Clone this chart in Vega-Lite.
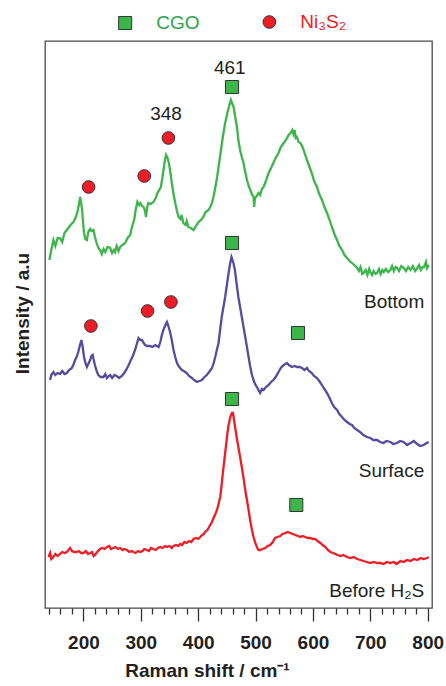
{
"$schema": "https://vega.github.io/schema/vega-lite/v6.json",
"width": 387, "height": 567,
"autosize": {"type": "none"},
"padding": {"left": 45, "top": 41, "right": 14, "bottom": 78},
"background": "white",
"config": {"view": {"stroke": "#4a4a4a", "strokeWidth": 1.3}, "font": "Liberation Sans"},
"datasets": {
"bottom": [{"x":140.7,"y":348},{"x":144,"y":358},{"x":147.7,"y":368},{"x":151,"y":362},{"x":155,"y":370},{"x":159.4,"y":369.7},{"x":163,"y":366},{"x":167,"y":375},{"x":171,"y":378},{"x":175,"y":381},{"x":179,"y":384},{"x":182.6,"y":386},{"x":186,"y":390},{"x":189.5,"y":396},{"x":192,"y":403},{"x":194.2,"y":411},{"x":196,"y":405},{"x":197.7,"y":398},{"x":199.5,"y":385},{"x":201,"y":375},{"x":203.5,"y":369},{"x":206,"y":368},{"x":208.5,"y":376},{"x":211.7,"y":379},{"x":214,"y":377},{"x":217.5,"y":378},{"x":220,"y":371},{"x":223,"y":365},{"x":226,"y":360},{"x":229,"y":358},{"x":232,"y":354},{"x":235,"y":359},{"x":238,"y":356},{"x":242,"y":361},{"x":246.6,"y":360},{"x":250,"y":355},{"x":253,"y":358},{"x":255,"y":356},{"x":258,"y":362},{"x":261,"y":357},{"x":264,"y":361},{"x":268,"y":363},{"x":272.7,"y":365},{"x":277,"y":370},{"x":281.5,"y":373},{"x":285,"y":382},{"x":288.4,"y":388},{"x":291,"y":398},{"x":294,"y":406},{"x":297,"y":403},{"x":299,"y":405},{"x":302,"y":402},{"x":304.7,"y":401},{"x":307,"y":398},{"x":309,"y":391},{"x":311,"y":400},{"x":313,"y":405},{"x":317,"y":404},{"x":322,"y":406},{"x":326,"y":410},{"x":329,"y":415},{"x":332,"y":418},{"x":335,"y":421},{"x":337.5,"y":430},{"x":339.5,"y":438},{"x":342,"y":448},{"x":344,"y":453},{"x":346.5,"y":450},{"x":349,"y":445},{"x":351.5,"y":436},{"x":354,"y":425},{"x":357,"y":414},{"x":360,"y":405},{"x":363,"y":397},{"x":365.7,"y":391},{"x":369,"y":389},{"x":371,"y":393},{"x":374,"y":385},{"x":378,"y":383},{"x":380,"y":387},{"x":383,"y":381},{"x":387,"y":380},{"x":392,"y":378},{"x":396,"y":382},{"x":400.6,"y":386},{"x":405,"y":388},{"x":409,"y":391},{"x":413,"y":396},{"x":418,"y":398},{"x":421,"y":401},{"x":424,"y":405},{"x":427,"y":412},{"x":430,"y":421},{"x":433,"y":431},{"x":435.5,"y":441},{"x":438.5,"y":453},{"x":441.4,"y":465},{"x":444,"y":475},{"x":447,"y":485},{"x":450,"y":493},{"x":453,"y":500},{"x":455,"y":504},{"x":457,"y":508},{"x":459,"y":505},{"x":461.7,"y":501},{"x":464.5,"y":491},{"x":467.6,"y":481},{"x":470,"y":468},{"x":473,"y":458},{"x":476,"y":451},{"x":479,"y":445},{"x":482,"y":436},{"x":485,"y":428},{"x":488,"y":422},{"x":490.8,"y":418},{"x":493.5,"y":414},{"x":496.5,"y":411},{"x":497.5,"y":401},{"x":499,"y":410},{"x":502,"y":412},{"x":505,"y":415},{"x":508,"y":413},{"x":511,"y":419},{"x":514,"y":421},{"x":518,"y":427},{"x":522.7,"y":435},{"x":527,"y":440},{"x":531,"y":445},{"x":535,"y":450},{"x":540,"y":455},{"x":544,"y":461},{"x":549,"y":465},{"x":553,"y":468},{"x":557.6,"y":473},{"x":561,"y":475},{"x":564,"y":478},{"x":566,"y":474},{"x":568,"y":478},{"x":570,"y":470},{"x":572,"y":471},{"x":575,"y":466},{"x":578,"y":465},{"x":581,"y":462},{"x":583.7,"y":458},{"x":586.5,"y":453},{"x":589.6,"y":448},{"x":594,"y":441},{"x":598,"y":435},{"x":602,"y":427},{"x":607,"y":421},{"x":611,"y":414},{"x":615.8,"y":408},{"x":620,"y":401},{"x":624.6,"y":395},{"x":629,"y":388},{"x":633,"y":381},{"x":638,"y":373},{"x":642,"y":368},{"x":646,"y":362},{"x":650.7,"y":358},{"x":655,"y":353},{"x":659.5,"y":350},{"x":664,"y":347},{"x":668,"y":345},{"x":672,"y":343},{"x":677,"y":340},{"x":680,"y":337},{"x":683,"y":341},{"x":686,"y":334},{"x":688.4,"y":335},{"x":692,"y":338},{"x":695,"y":333},{"x":698,"y":339},{"x":700,"y":336},{"x":703,"y":333},{"x":706,"y":337},{"x":709,"y":334},{"x":711.8,"y":335},{"x":715,"y":339},{"x":718,"y":334},{"x":721,"y":338},{"x":723.5,"y":336},{"x":727,"y":339},{"x":731,"y":336},{"x":735,"y":338},{"x":738,"y":342},{"x":741,"y":337},{"x":744,"y":341},{"x":747,"y":340},{"x":750,"y":337},{"x":754,"y":342},{"x":758.6,"y":340},{"x":762,"y":337},{"x":766,"y":341},{"x":770,"y":338},{"x":774,"y":342},{"x":778,"y":337},{"x":782,"y":340},{"x":785,"y":343},{"x":788,"y":338},{"x":791,"y":341},{"x":793.7,"y":341},{"x":797,"y":346},{"x":799,"y":340},{"x":801.8,"y":343}],
"surface": [{"x":141.9,"y":228},{"x":144,"y":233},{"x":147.7,"y":236},{"x":151,"y":233},{"x":155,"y":235},{"x":159,"y":234},{"x":163,"y":237},{"x":167,"y":234},{"x":171,"y":235},{"x":175,"y":238},{"x":179.8,"y":240},{"x":183,"y":244},{"x":185.5,"y":248},{"x":188,"y":251},{"x":191,"y":256},{"x":193.5,"y":262},{"x":196.5,"y":268},{"x":198.5,"y":262},{"x":201,"y":251},{"x":203.5,"y":245},{"x":206,"y":241},{"x":208.5,"y":244},{"x":211.7,"y":248},{"x":214,"y":252},{"x":216,"y":253},{"x":218,"y":248},{"x":220,"y":243},{"x":223,"y":237},{"x":226,"y":233},{"x":230,"y":231},{"x":235,"y":231},{"x":238,"y":234},{"x":241,"y":230},{"x":244,"y":232},{"x":246.6,"y":233},{"x":250,"y":230},{"x":254,"y":233},{"x":258,"y":232},{"x":262,"y":230},{"x":267,"y":232},{"x":271,"y":235},{"x":274.5,"y":238},{"x":278,"y":242},{"x":282.7,"y":248},{"x":286,"y":252},{"x":290,"y":258},{"x":293,"y":264},{"x":296,"y":270},{"x":299,"y":268},{"x":302,"y":268},{"x":305,"y":265},{"x":307.6,"y":263},{"x":311,"y":262},{"x":316,"y":262},{"x":320,"y":261},{"x":325,"y":263},{"x":328,"y":262},{"x":331,"y":261},{"x":334,"y":266},{"x":336.7,"y":273},{"x":340,"y":279},{"x":343,"y":283},{"x":345.5,"y":286},{"x":348,"y":282},{"x":351,"y":276},{"x":354,"y":268},{"x":357,"y":258},{"x":360,"y":251},{"x":363,"y":245},{"x":367,"y":241},{"x":371.6,"y":238},{"x":375,"y":237},{"x":380,"y":235},{"x":384,"y":232},{"x":389,"y":230},{"x":393,"y":228},{"x":397.8,"y":226},{"x":402,"y":227},{"x":406.5,"y":228},{"x":411,"y":231},{"x":415,"y":233},{"x":419,"y":236},{"x":424,"y":240},{"x":427,"y":245},{"x":429.7,"y":251},{"x":432.5,"y":258},{"x":435.5,"y":265},{"x":438,"y":277},{"x":441,"y":291},{"x":444,"y":301},{"x":447,"y":311},{"x":450,"y":323},{"x":453,"y":335},{"x":455.5,"y":344},{"x":458,"y":351},{"x":461,"y":346},{"x":464,"y":338},{"x":467,"y":324},{"x":470,"y":311},{"x":473,"y":301},{"x":476,"y":291},{"x":479,"y":281},{"x":482,"y":271},{"x":485,"y":261},{"x":487.8,"y":251},{"x":490.5,"y":242},{"x":493.7,"y":233},{"x":497,"y":227},{"x":500,"y":223},{"x":502.5,"y":221},{"x":505,"y":218},{"x":508,"y":215},{"x":511,"y":219},{"x":514,"y":218},{"x":518,"y":221},{"x":522.7,"y":223},{"x":527,"y":226},{"x":531,"y":228},{"x":535,"y":231},{"x":540,"y":236},{"x":544,"y":240},{"x":549,"y":243},{"x":552,"y":244},{"x":554.8,"y":245},{"x":558,"y":243},{"x":563.5,"y":241},{"x":568,"y":242},{"x":572,"y":241},{"x":576,"y":241},{"x":581,"y":240},{"x":585,"y":238},{"x":589.7,"y":240},{"x":593,"y":237},{"x":598,"y":235},{"x":602,"y":232},{"x":607,"y":230},{"x":611,"y":227},{"x":615.8,"y":223},{"x":620,"y":219},{"x":624.6,"y":215},{"x":629,"y":210},{"x":633,"y":205},{"x":637,"y":201},{"x":642,"y":198},{"x":646,"y":194},{"x":650.7,"y":191},{"x":655,"y":188},{"x":659.5,"y":186},{"x":664,"y":184},{"x":668,"y":183},{"x":672,"y":180},{"x":677,"y":178},{"x":682,"y":176},{"x":688,"y":173},{"x":694,"y":171},{"x":700,"y":170},{"x":705,"y":168},{"x":711.8,"y":168},{"x":717,"y":166},{"x":723,"y":165},{"x":728,"y":167},{"x":735,"y":166},{"x":740,"y":164},{"x":746.6,"y":165},{"x":752,"y":167},{"x":758,"y":166},{"x":764,"y":163},{"x":770,"y":165},{"x":776,"y":167},{"x":781.5,"y":164},{"x":787,"y":162},{"x":793,"y":163},{"x":798,"y":165},{"x":801.8,"y":166}],
"before": [{"x":139,"y":51},{"x":142,"y":55},{"x":144,"y":49},{"x":147.7,"y":51},{"x":151,"y":54},{"x":155,"y":52},{"x":159,"y":54},{"x":163,"y":56},{"x":167,"y":55},{"x":171,"y":56},{"x":174,"y":58},{"x":176.8,"y":60},{"x":180,"y":57},{"x":184,"y":56},{"x":188.5,"y":56},{"x":192,"y":57},{"x":196,"y":55},{"x":200,"y":55},{"x":204,"y":57},{"x":208,"y":54},{"x":211.7,"y":55},{"x":215,"y":56},{"x":218,"y":52},{"x":220,"y":53},{"x":224,"y":56},{"x":229,"y":59},{"x":233,"y":60},{"x":237,"y":59},{"x":240.8,"y":61},{"x":245,"y":62},{"x":248,"y":59},{"x":252,"y":60},{"x":256,"y":61},{"x":260,"y":59},{"x":264,"y":60},{"x":268,"y":58},{"x":271,"y":59},{"x":275.7,"y":58},{"x":280,"y":56},{"x":284,"y":57},{"x":287,"y":56},{"x":291,"y":55},{"x":295,"y":57},{"x":299,"y":56},{"x":303,"y":57},{"x":306,"y":59},{"x":310.6,"y":58},{"x":314,"y":57},{"x":318,"y":60},{"x":322,"y":59},{"x":326,"y":58},{"x":330,"y":60},{"x":334,"y":61},{"x":338,"y":60},{"x":342,"y":62},{"x":345.5,"y":61},{"x":350,"y":62},{"x":354,"y":60},{"x":357,"y":62},{"x":361,"y":63},{"x":365,"y":62},{"x":368.7,"y":64},{"x":372,"y":63},{"x":376,"y":66},{"x":380,"y":65},{"x":384,"y":67},{"x":388,"y":66},{"x":392,"y":69},{"x":396,"y":70},{"x":400,"y":69},{"x":403.6,"y":71},{"x":407,"y":73},{"x":410,"y":74},{"x":412,"y":76},{"x":416,"y":78},{"x":419,"y":81},{"x":421,"y":83},{"x":424,"y":86},{"x":426.8,"y":90},{"x":430,"y":94},{"x":432.7,"y":98},{"x":435,"y":103},{"x":438.4,"y":111},{"x":441,"y":124},{"x":443,"y":135},{"x":445,"y":145},{"x":447,"y":155},{"x":449,"y":165},{"x":451,"y":175},{"x":453,"y":183},{"x":456,"y":191},{"x":458.8,"y":195},{"x":460.6,"y":195},{"x":462.5,"y":188},{"x":464.6,"y":180},{"x":467,"y":171},{"x":470,"y":161},{"x":473,"y":151},{"x":476,"y":141},{"x":479,"y":130},{"x":482,"y":118},{"x":485,"y":108},{"x":487.8,"y":98},{"x":490.5,"y":88},{"x":493.7,"y":78},{"x":496.5,"y":71},{"x":499.5,"y":65},{"x":503,"y":60},{"x":505,"y":58},{"x":508,"y":58},{"x":512,"y":59},{"x":517,"y":60},{"x":521,"y":62},{"x":525.6,"y":63},{"x":530,"y":66},{"x":534,"y":70},{"x":538,"y":71},{"x":543,"y":72},{"x":547,"y":74},{"x":551.8,"y":75},{"x":556,"y":76},{"x":560.5,"y":75},{"x":565,"y":74},{"x":569,"y":73},{"x":574,"y":72},{"x":578,"y":71},{"x":582,"y":72},{"x":586.7,"y":71},{"x":591,"y":70},{"x":595,"y":70},{"x":600,"y":69},{"x":604,"y":69},{"x":608,"y":67},{"x":613,"y":65},{"x":617,"y":63},{"x":621.8,"y":61},{"x":626,"y":58},{"x":630.5,"y":56},{"x":635,"y":55},{"x":639,"y":54},{"x":643,"y":53},{"x":648,"y":52},{"x":653,"y":53},{"x":659.5,"y":51},{"x":665,"y":50},{"x":671,"y":51},{"x":677,"y":49},{"x":682.6,"y":48},{"x":688,"y":47},{"x":694,"y":46},{"x":700,"y":45},{"x":705.8,"y":46},{"x":712,"y":45},{"x":717.5,"y":45},{"x":723,"y":44},{"x":729,"y":46},{"x":735,"y":45},{"x":740.7,"y":46},{"x":746,"y":44},{"x":752.5,"y":47},{"x":758,"y":46},{"x":764,"y":48},{"x":770,"y":47},{"x":776,"y":49},{"x":782,"y":48},{"x":787.7,"y":50},{"x":793,"y":49},{"x":799,"y":50},{"x":801.8,"y":51}],
"cgo": [{"x":459,"y":521},{"x":459,"y":365},{"x":574,"y":275},{"x":459,"y":209},{"x":571,"y":103}],
"ni": [{"x":348,"y":470},{"x":306,"y":432},{"x":209,"y":421},{"x":352.5,"y":306},{"x":311.7,"y":297},{"x":213,"y":282}],
"peaks": [{"x":455,"y":534,"t":"461"},{"x":344,"y":488,"t":"348"}],
"samples": [{"x":794,"y":300,"t":"Bottom"},{"x":794,"y":131,"t":"Surface"},{"x":794,"y":11,"t":"Before H₂S"}],
"legSq": [{"x":272.7,"y":585}],
"legCi": [{"x":524,"y":586}],
"legT1": [{"x":327,"y":585,"t":"CGO"}],
"legT2": [{"x":578,"y":586,"t":"Ni₃S₂"}]
},
"encoding": {
"x": {"field": "x", "type": "quantitative", "scale": {"domain": [133, 807.5], "nice": false, "zero": false},
 "axis": {"values": [140,160,180,200,220,240,260,280,300,320,340,360,380,400,420,440,460,480,500,520,540,560,580,600,620,640,660,680,700,720,740,760,780,800],
  "labelExpr": "datum.value % 100 === 0 ? datum.label : ''",
  "tickSize": {"condition": {"test": "datum.value % 100 === 0", "value": 13}, "value": 6},
  "tickColor": "#333333", "tickWidth": 1.3, "domain": false, "grid": false,
  "labelFont": "Liberation Sans", "labelFontSize": 19, "labelFontWeight": "bold", "labelColor": "#231f20",
  "labelPadding": 12, "labelOverlap": false, "labelFlush": false,
  "title": "Raman shift / cm⁻¹", "titleFont": "Liberation Sans", "titleFontSize": 19, "titleFontWeight": "bold", "titleColor": "#231f20",
  "titleX": 162, "titleY": 68, "titleBaseline": "alphabetic", "titleAlign": "center"}},
"y": {"field": "y", "type": "quantitative", "scale": {"domain": [0, 567], "nice": false, "zero": false},
 "axis": {"title": "Intensity / a.u", "ticks": false, "labels": false, "domain": false, "grid": false,
  "titleFont": "Liberation Sans", "titleFontSize": 19, "titleFontWeight": "bold", "titleColor": "#231f20",
  "titleX": -23, "titleY": 272, "titleAngle": -90, "titleBaseline": "middle", "titleAlign": "center"}}
},
"layer": [
{"data": {"name": "bottom"}, "mark": {"type": "line", "color": "#3cb54a", "strokeWidth": 2.3}},
{"data": {"name": "surface"}, "mark": {"type": "line", "color": "#5a4a9f", "strokeWidth": 2.3}},
{"data": {"name": "before"}, "mark": {"type": "line", "color": "#ee1c25", "strokeWidth": 2.3}},
{"data": {"name": "cgo"}, "mark": {"type": "point", "shape": "square", "filled": true, "size": 170, "color": "#3cb54a", "stroke": "#333333", "strokeWidth": 1, "opacity": 1}},
{"data": {"name": "ni"}, "mark": {"type": "point", "shape": "circle", "filled": true, "size": 160, "color": "#ee1c25", "stroke": "#333333", "strokeWidth": 1, "opacity": 1}},
{"data": {"name": "legSq"}, "mark": {"type": "point", "shape": "square", "filled": true, "size": 170, "color": "#3cb54a", "stroke": "#333333", "strokeWidth": 1, "opacity": 1}},
{"data": {"name": "legCi"}, "mark": {"type": "point", "shape": "circle", "filled": true, "size": 160, "color": "#ee1c25", "stroke": "#333333", "strokeWidth": 1, "opacity": 1}},
{"data": {"name": "peaks"}, "mark": {"type": "text", "align": "center", "baseline": "alphabetic", "fontSize": 19, "font": "Liberation Sans", "color": "#231f20"}, "encoding": {"text": {"field": "t"}}},
{"data": {"name": "samples"}, "mark": {"type": "text", "align": "right", "baseline": "alphabetic", "fontSize": 19, "font": "Liberation Sans", "color": "#231f20"}, "encoding": {"text": {"field": "t"}}},
{"data": {"name": "legT1"}, "mark": {"type": "text", "align": "left", "baseline": "middle", "fontSize": 19, "font": "Liberation Sans", "color": "#2ea24a"}, "encoding": {"text": {"field": "t"}}},
{"data": {"name": "legT2"}, "mark": {"type": "text", "align": "left", "baseline": "middle", "fontSize": 19, "font": "Liberation Sans", "color": "#ee1c25"}, "encoding": {"text": {"field": "t"}}}
]
}
